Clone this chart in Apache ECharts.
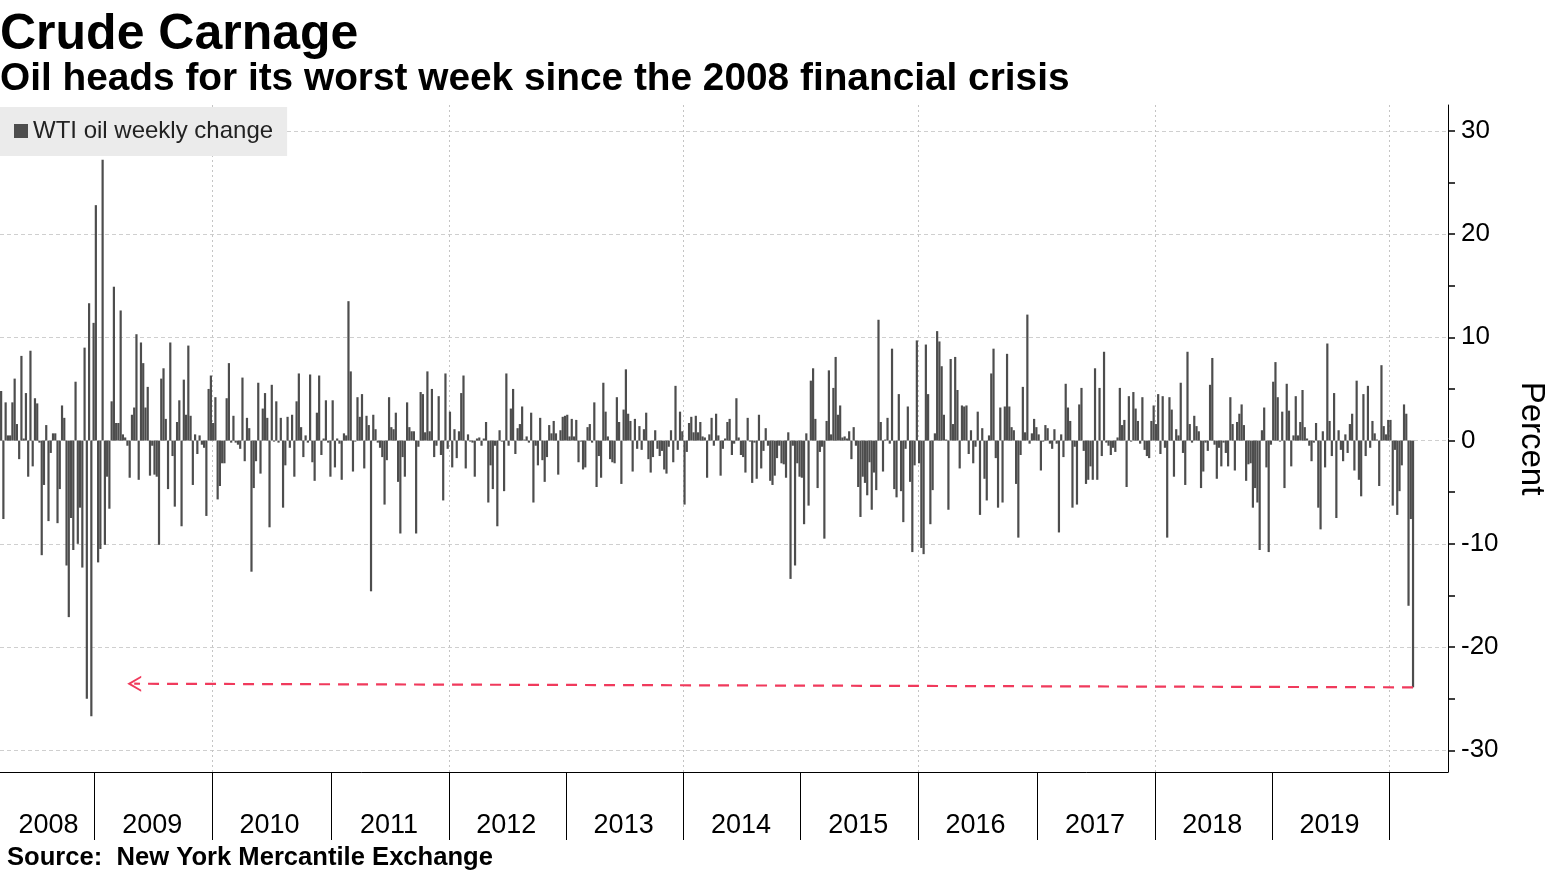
<!DOCTYPE html>
<html><head><meta charset="utf-8">
<script src="https://cdn.jsdelivr.net/npm/echarts@6/dist/echarts.min.js"></script>
<style>html,body{margin:0;padding:0;background:#fff}#c{width:1550px;height:871px}</style>
</head><body><div id="c"></div>
<script>
// ---- data: WTI weekly % change, weeks ending on Fridays starting 2008-03-14 ----
const startDate = '2008-03-14';
const v2008 = [4.8, -7.6, 3.7, 0.5, 0.5, 3.7, 6.0, 1.6, -1.8, 8.2, 0.2, 4.6, -3.5, 8.7, -2.5, 4.1, 3.6, -0.2, -11.1, -4.3, 1.5, -7.8, -1.2, 0.7, 0.7, -8.0, -4.7, 3.4, 2.2, -12.1, -17.1, -7.5, -10.6, 5.7, -10.0, -6.5, -12.3, 9.0, -25.0, 13.3, -26.7, 11.4];
const v2009 = [22.8, -11.8, -10.5, 27.2, -10.1, -3.5, -6.6, 3.8, 14.9, 1.7, 1.7, 12.6, 0.6, 0.3, -0.5, -3.6, 2.5, 3.2, 10.3, -3.8, 9.5, 7.5, 3.2, 5.2, -3.4, -0.5, -3.3, -3.5, -10.1, 6.0, 7.0, 2.1, -4.7, 9.5, -1.5, -6.4, 1.8, 3.9, -8.3, 5.9, 2.5, 9.2, 2.4, -4.3, 0.6, -1.3, 0.5, -0.4, -0.7, -7.3, 5.0, 6.3];
const v2010 = [1.7, 4.2, -5.7, -4.4, -2.2, -2.2, 4.1, 7.5, -0.2, 2.4, -0.2, -0.4, -0.8, 6.1, -2.0, 2.2, 1.2, -12.7, -4.6, -2.0, 5.6, -3.2, 3.1, 4.6, 2.2, -8.4, 5.4, -0.1, 3.8, -0.2, 2.2, -6.5, -2.4, 2.3, -0.7, 2.5, -3.5, 3.8, 6.5, 1.3, -1.6, 0.5, -0.2, 6.4, -2.1, -3.9, 2.7, 6.3, -1.4, 0.2, 3.9, -0.2, -3.5];
const v2011 = [3.9, -2.6, 0.2, -0.3, -3.8, 0.7, 0.5, 13.5, 6.7, -3.0, -0.1, 4.2, 2.3, 4.5, -2.7, 2.4, 1.5, -14.6, 2.5, 1.1, -0.2, -0.7, -1.6, -6.2, -1.9, 4.2, 1.3, 1.1, 2.7, -4.0, -9.0, -1.6, -3.5, 3.7, 1.3, 0.9, 0.9, -9.0, -0.6, 4.7, 4.5, 0.8, 6.7, 0.9, 5.0, -1.6, -0.5, 4.3, -1.4, -5.8, 6.5, -0.8];
const v2012 = [2.8, -2.6, 1.1, -1.7, 0.9, 4.6, 6.3, -2.7, 0.6, -0.1, -0.2, -3.5, 0.2, 0.3, -0.5, 0.2, 1.8, -6.0, -2.4, -4.7, -0.5, -8.3, 1.0, -0.1, -4.9, 6.5, -0.5, 3.1, 5.0, -1.3, 1.2, 1.6, 3.3, 0.1, 0.4, -0.2, 2.7, -6.0, -0.5, -2.4, 2.2, -1.9, -4.0, -1.6, 1.5, 0.7, 1.9, 0.7, -3.3, 1.0, 2.3, 2.4];
const v2013 = [2.5, 0.4, 2.1, 0.4, 2.0, -2.1, -0.1, -2.8, -2.6, 1.3, 1.6, -0.2, 3.7, -4.5, -1.5, -3.6, 5.6, 2.8, 0.4, -1.8, -2.1, -2.2, 4.2, 1.8, -4.2, 3.0, 6.9, 2.6, 1.9, -3.0, 2.1, -0.8, 1.4, -0.9, 1.1, 2.7, -1.8, -3.1, -1.6, 1.0, -0.8, -1.5, -1.0, -2.8, -3.2, -0.6, 1.0, -2.1, 5.3, -0.9, 2.8, 0.9];
const v2014 = [-6.2, -1.1, 1.7, 2.3, 0.8, 2.4, 0.8, 1.8, 0.4, 0.3, -3.6, 0.6, 2.2, -0.5, 2.6, 0.5, -3.4, -0.8, 0.2, 1.8, 2.1, -1.4, -0.3, 4.1, 0.3, -1.4, -1.6, -3.1, 2.2, -0.1, -4.1, -0.2, -3.7, 2.5, -2.7, -1.0, 1.2, -0.5, -3.9, -4.3, -3.4, -1.7, -0.5, -2.2, -2.3, -3.6, 0.8, -13.4, -0.5, -12.1, -2.2, -3.5];
const v2015 = [-3.6, -8.1, 0.7, -6.3, 5.8, 7.0, 2.1, -4.6, -1.1, -0.6, -9.5, 1.9, 6.8, 0.6, 5.1, 8.1, 2.5, 3.4, 0.3, 0.4, 0.2, 0.9, -1.8, 1.3, -0.5, -4.5, -7.4, -3.5, -4.1, -5.3, -2.1, -6.7, -3.1, -4.8, 11.7, 1.8, -3.0, 0.1, 2.2, -0.3, 8.9, -4.7, -5.5, 4.5, -4.9, -7.9, -0.8, 3.3, -4.0, -10.8, -2.4, 9.7];
const v2016 = [-2.2, -10.4, -11.0, 9.3, 4.5, -8.1, -4.8, 0.7, 10.6, 9.6, 7.2, 2.5, 0.1, -6.7, 7.9, 1.6, 8.1, 4.9, -2.7, 3.4, 3.3, 3.4, -1.3, 1.0, -2.2, -0.6, 2.8, -7.2, 1.2, -3.7, -5.8, 0.5, 6.5, 8.9, -1.7, -6.5, 3.2, -6.0, 3.3, 8.4, 3.3, 1.3, 1.0, -4.2, -9.4, -1.4, 5.2, 0.8, 12.2, -0.3, 0.7, 2.1, 1.3];
const v2017 = [0.6, -2.9, -0.1, 1.5, 1.2, -0.3, -0.8, 1.1, -0.3, -8.9, 0.6, -1.6, 5.5, 3.2, 1.9, -6.5, -0.6, -6.2, 3.5, 5.1, -1.0, -4.2, -3.8, -2.5, -3.8, 7.0, -3.8, 5.1, -1.5, 8.6, -0.2, -0.5, -1.4, -0.7, -1.1, 0.3, 5.1, 1.5, 2.0, -4.5, 4.3, -0.1, 4.7, 3.1, 1.9, -0.3, 4.2, -0.9, -1.5, -1.7, 1.9, 3.4];
const v2018 = [1.6, 4.5, -1.3, 4.3, -0.7, -9.4, 4.2, 3.0, -3.5, 1.1, 0.5, 5.6, -1.2, -4.3, 8.6, 1.6, -0.2, 2.4, 1.4, 0.9, -4.6, -3.0, -0.2, -1.0, 5.4, 8.0, -0.4, -3.7, -0.7, -2.5, -0.2, -1.2, -2.5, 4.2, 1.6, -2.9, 1.8, 2.6, 3.5, 1.5, -3.9, -2.3, -2.2, -6.5, -4.6, -6.0, -10.6, 1.0, 3.2, -2.6, -10.8, -0.4];
const v2019 = [5.7, 7.6, 4.2, -0.1, 2.8, -4.6, 5.5, 2.9, -2.5, 0.5, 4.3, 0.5, 1.8, 4.9, 1.3, 0.2, -0.5, -2.0, -0.2, 1.7, -6.5, -8.6, 0.9, -2.6, 9.4, 1.9, -1.5, 4.6, -7.5, 1.0, -0.9, -2.0, 0.6, -1.2, 1.6, 2.6, -2.9, 5.8, -3.8, -5.4, 4.5, -1.5, 5.3, -0.7, 1.9, 0.7, 0.1, -4.4, 7.3, 1.4, 0.6, 2.0];
const v2020 = [2.0, -6.3, -0.9, -7.2, -4.9, -2.4, 3.5, 2.6, -16.0, -7.6, -23.9];
const padWeeks = 15;                       // empty weeks after the last bar (axis runs on)
const yTickValues = [-30, -25, -20, -15, -10, -5, 0, 5, 10, 15, 20, 25, 30];
const yLabelValues = [-30, -20, -10, 0, 10, 20, 30];
const arrowEndIndex = 59;                  // annotation: where the red arrow points to
const arrowEndValue = -23.55;

const values = [].concat(v2008, v2009, v2010, v2011, v2012, v2013, v2014, v2015, v2016, v2017, v2018, v2019, v2020);
const categories = [];
const t0 = Date.parse(startDate + 'T00:00:00Z');
for (let i = 0; i < values.length + padWeeks; i++) {
  categories.push(new Date(t0 + i * 7 * 86400000).toISOString().slice(0, 10));
}
const barData = values.map((v, i) => [i, v]);

const yearOf = s => s.slice(0, 4);
const yearStarts = [];
for (let i = 1; i < categories.length; i++) {
  if (yearOf(categories[i]) !== yearOf(categories[i - 1])) yearStarts.push(i);
}
const tickPositions = yearStarts.map(i => i - 0.5);
const evenYearLines = yearStarts.filter(i => (+yearOf(categories[i])) % 2 === 0).map(i => i - 0.5);
const labelPositions = [Math.floor(yearStarts[0] / 2)];
yearStarts.forEach(s => { if (s + 51 < values.length) labelPositions.push(s + 25); });

const chevron = 'path://M0,12 L7,0 L14,12 L12.2,12 L7,3.4 L1.8,12 Z';
const red = '#f03a5c';

const chart = echarts.init(document.getElementById('c'));
chart.setOption({
  animation: false,
  backgroundColor: '#fff',
  title: [
    { text: 'Crude Carnage', left: 0, top: 10, padding: 0,
      textStyle: { fontFamily: 'Liberation Sans', fontWeight: 'bold', fontSize: 50, color: '#000' } },
    { text: 'Oil heads for its worst week since the 2008 financial crisis', left: 0, top: 60, padding: 0,
      textStyle: { fontFamily: 'Liberation Sans', fontWeight: 'bold', fontSize: 38.8, color: '#000' } },
    { text: 'Source:  New York Mercantile Exchange', left: 7, top: 845, padding: 0,
      textStyle: { fontFamily: 'Liberation Sans', fontWeight: 'bold', fontSize: 25.6, color: '#000' } }
  ],
  legend: {
    left: 0, top: 107, padding: [12, 14, 13, 14],
    backgroundColor: '#ebebeb',
    icon: 'rect', itemWidth: 14, itemHeight: 14, itemGap: 5,
    textStyle: { fontFamily: 'Liberation Sans', fontSize: 24, color: '#222' },
    data: ['WTI oil weekly change']
  },
  grid: { left: 0, right: 102, top: 105, bottom: 99, containLabel: false, outerBoundsMode: 'none' },
  xAxis: {
    type: 'value',
    min: -0.5, max: categories.length - 0.5,
    axisLine: { onZero: false, lineStyle: { color: '#000', width: 1 } },
    axisTick: { show: true, length: 68, customValues: tickPositions, lineStyle: { color: '#000', width: 1 } },
    axisLabel: {
      customValues: labelPositions,
      formatter: (v) => yearOf(categories[Math.round(v)]),
      margin: 40, fontFamily: 'Liberation Sans', fontSize: 27, color: '#000'
    },
    splitLine: { show: false }
  },
  yAxis: {
    type: 'value',
    position: 'right',
    min: -32.1, max: 32.5,
    name: 'Percent', nameLocation: 'middle', nameRotate: -90, nameGap: 67,
    nameTextStyle: { fontFamily: 'Liberation Sans', fontSize: 33, color: '#000' },
    axisLine: { show: true, onZero: false, lineStyle: { color: '#000', width: 1 } },
    axisTick: { show: true, length: 7, customValues: yTickValues, lineStyle: { color: '#000', width: 1.5 } },
    axisLabel: { customValues: yLabelValues, margin: 13, fontFamily: 'Liberation Sans', fontSize: 26, color: '#000' },
    splitLine: { show: false }
  },
  series: [
    {
      name: '_grid', type: 'line', data: [], silent: true, z: 0,
      markLine: {
        silent: true, symbol: ['none', 'none'], label: { show: false }, z: 0,
        data: yLabelValues.map(v => ({ yAxis: v, lineStyle: { color: '#cfcfcf', type: [4, 3], width: 1 } }))
          .concat(evenYearLines.map(x => ({ xAxis: x, lineStyle: { color: '#c4c4c4', type: [2, 3], width: 1 } })))
      }
    },
    {
      name: 'WTI oil weekly change',
      type: 'bar',
      data: barData,
      barWidth: 2.2,
      itemStyle: { color: '#4d4d4d' },
      z: 2,
      markLine: {
        silent: true, symbol: ['none', 'none'], label: { show: false },
        lineStyle: { color: red, type: [11, 8], width: 2.2 },
        data: [[
          { coord: [values.length - 1, values[values.length - 1]], symbol: 'none',
            lineStyle: { color: red, type: [11, 8], width: 2.2 } },
          { coord: [arrowEndIndex, arrowEndValue], symbol: chevron, symbolSize: [16, 14] }
        ]]
      }
    }
  ]
});
</script></body></html>
